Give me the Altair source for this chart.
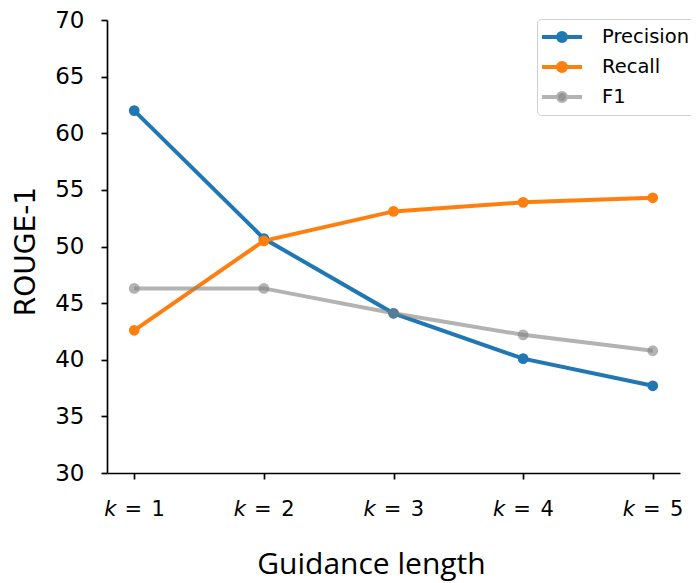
import altair as alt
import pandas as pd

ks = [1, 2, 3, 4, 5]
series = ["Precision", "Recall", "F1"]
precision = [62.0, 50.7, 44.1, 40.1, 37.7]
recall = [42.6, 50.5, 53.1, 53.9, 54.3]
f1 = [46.3, 46.3, 44.1, 42.2, 40.8]
colors = ["#1f77b4", "#ff7f0e", "rgba(128,128,128,0.6)"]

rows = []
for name, vals in zip(series, [precision, recall, f1]):
    for k, v in zip(ks, vals):
        rows.append({"k": k, "series": name, "value": v})
df = pd.DataFrame(rows)
lab = pd.DataFrame({"k": ks, "kk": ["k"] * len(ks), "eq": ["="] * len(ks),
                    "num": [str(k) for k in ks]})

W, H = 573, 453
xs = alt.Scale(domain=[0.79, 5.21], nice=False, zero=False)
ys = alt.Scale(domain=[30, 70], nice=False, zero=False)
cs = alt.Scale(domain=series, range=colors)

PATH = ("M-1.3,0L2.7,0"
        "M1.1,0A0.4,0.4,0,1,1,0.3,0A0.4,0.4,0,1,1,1.1,0"
        "M0.8,0A0.1,0.1,0,1,1,0.6,0A0.1,0.1,0,1,1,0.8,0")

legend = alt.Legend(
    title=None, orient="none", legendX=430, legendY=-1,
    symbolType=PATH, symbolSize=400, symbolStrokeWidth=4,
    labelFont="DejaVu Sans", labelFontSize=19.5, labelColor="black",
    labelOffset=35, rowPadding=6, padding=6,
    strokeColor="#d0d0d0", fillColor="white", cornerRadius=4,
)

x_enc = alt.X("k:Q", scale=xs, axis=alt.Axis(values=ks, labels=False,
              title="Guidance length", titleFont="Open Sans", titleFontSize=30,
              titleFontWeight="normal", titleColor="black",
              titleX=264, titleY=100, titleBaseline="alphabetic", titleAlign="center"))
y_enc = alt.Y("value:Q", scale=ys, axis=alt.Axis(values=list(range(30, 71, 5)),
              title="ROUGE-1", titleFont="DejaVu Sans", titleFontSize=28,
              titleFontWeight="normal", titlePadding=14, titleColor="black",
              titleY=231, labelPadding=17))

lines = alt.Chart(df).mark_line(strokeWidth=4).encode(
    x=x_enc, y=y_enc,
    color=alt.Color("series:N", scale=cs, sort=series, legend=legend),
)
points = alt.Chart(df).mark_point(filled=True, size=115, opacity=1).encode(
    x=alt.X("k:Q", scale=xs), y=alt.Y("value:Q", scale=ys),
    color=alt.Color("series:N", scale=cs, sort=series, legend=None),
)
txt = dict(font="DejaVu Sans", fontSize=21, align="center", baseline="middle", color="black")
klab = alt.Chart(lab).mark_text(fontStyle="italic", dx=-24, **txt).encode(
    x=alt.X("k:Q", scale=xs), y=alt.value(H + 37), text="kk:N")
elab = alt.Chart(lab).mark_text(dx=-1, **txt).encode(
    x=alt.X("k:Q", scale=xs), y=alt.value(H + 37), text="eq:N")
nlab = alt.Chart(lab).mark_text(dx=24, **txt).encode(
    x=alt.X("k:Q", scale=xs), y=alt.value(H + 37), text="num:N")

chart = alt.layer(lines, points, klab, elab, nlab).properties(
    width=W, height=H,
    padding={"left": 99, "top": 12, "right": 11, "bottom": 110},
    autosize=alt.AutoSizeParams(type="none"),
).configure_view(stroke=None).configure_axis(
    grid=False, domainColor="black", domainWidth=1.7, tickColor="black",
    tickWidth=1.7, tickSize=6, labelFont="DejaVu Sans", labelFontSize=23,
    labelColor="black",
)

chart.save("out.html", embed_options={"renderer": "svg", "actions": False})
